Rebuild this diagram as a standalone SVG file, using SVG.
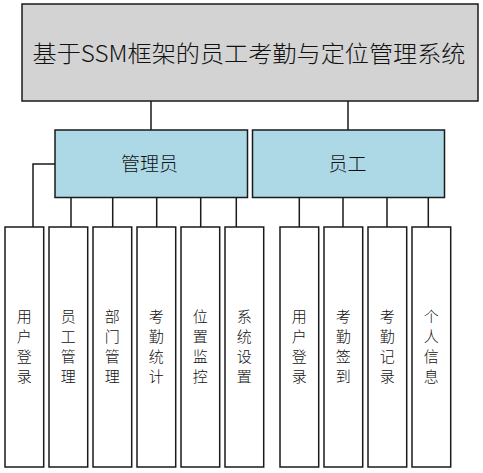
<svg xmlns="http://www.w3.org/2000/svg" width="483" height="473" viewBox="0 0 483 473">
<style>
.box{stroke:#1a1a1a;stroke-width:1.5}
.root{fill:#d3d3d3}
.mid{fill:#add8e6}
.leaf{fill:#ffffff}
.t{font-family:"Noto Sans CJK SC","Noto Sans",sans-serif;font-weight:300;fill:#111;text-anchor:middle;dominant-baseline:central}
.conn{fill:none;stroke:#1a1a1a;stroke-width:1.5}
</style>
<rect width="483" height="473" fill="#ffffff"/>
<g id="connectors" class="conn">
<path d="M151,101V130M348,101V130"/>
<path d="M55,164H33V227M71,197.5V227M112.7,197.5V227M156.7,197.5V227M200.7,197.5V227M236.3,197.5V227"/>
<path d="M299.3,197.5V227M343,197.5V227M387,197.5V227M428.3,197.5V227"/>
</g>
<g id="root">
<rect class="box root" x="22" y="4" width="456" height="97"/>
<text class="t" x="249" y="52" font-size="23" textLength="433" lengthAdjust="spacingAndGlyphs">基于SSM框架的员工考勤与定位管理系统</text>
</g>
<g id="admin">
<rect class="box mid" x="55" y="130" width="192.5" height="67.5"/>
<text class="t" x="149.5" y="162.5" font-size="19">管理员</text>
</g>
<g id="employee">
<rect class="box mid" x="252.5" y="130" width="192" height="67.5"/>
<text class="t" x="347.5" y="162.5" font-size="19">员工</text>
</g>
<g id="a1"><rect class="box leaf" x="5" y="227" width="38.7" height="240"/><text class="t" font-size="15"><tspan x="24.3" y="315">用</tspan><tspan x="24.3" y="335">户</tspan><tspan x="24.3" y="355">登</tspan><tspan x="24.3" y="375">录</tspan></text></g>
<g id="a2"><rect class="box leaf" x="49" y="227" width="38.7" height="240"/><text class="t" font-size="15"><tspan x="68.3" y="315">员</tspan><tspan x="68.3" y="335">工</tspan><tspan x="68.3" y="355">管</tspan><tspan x="68.3" y="375">理</tspan></text></g>
<g id="a3"><rect class="box leaf" x="93" y="227" width="38.7" height="240"/><text class="t" font-size="15"><tspan x="112.3" y="315">部</tspan><tspan x="112.3" y="335">门</tspan><tspan x="112.3" y="355">管</tspan><tspan x="112.3" y="375">理</tspan></text></g>
<g id="a4"><rect class="box leaf" x="137" y="227" width="38.7" height="240"/><text class="t" font-size="15"><tspan x="156.3" y="315">考</tspan><tspan x="156.3" y="335">勤</tspan><tspan x="156.3" y="355">统</tspan><tspan x="156.3" y="375">计</tspan></text></g>
<g id="a5"><rect class="box leaf" x="181" y="227" width="38.7" height="240"/><text class="t" font-size="15"><tspan x="200.3" y="315">位</tspan><tspan x="200.3" y="335">置</tspan><tspan x="200.3" y="355">监</tspan><tspan x="200.3" y="375">控</tspan></text></g>
<g id="a6"><rect class="box leaf" x="225" y="227" width="38.7" height="240"/><text class="t" font-size="15"><tspan x="244.3" y="315">系</tspan><tspan x="244.3" y="335">统</tspan><tspan x="244.3" y="355">设</tspan><tspan x="244.3" y="375">置</tspan></text></g>
<g id="e1"><rect class="box leaf" x="280" y="227" width="38.7" height="240"/><text class="t" font-size="15"><tspan x="299.3" y="315">用</tspan><tspan x="299.3" y="335">户</tspan><tspan x="299.3" y="355">登</tspan><tspan x="299.3" y="375">录</tspan></text></g>
<g id="e2"><rect class="box leaf" x="324" y="227" width="38.7" height="240"/><text class="t" font-size="15"><tspan x="343.3" y="315">考</tspan><tspan x="343.3" y="335">勤</tspan><tspan x="343.3" y="355">签</tspan><tspan x="343.3" y="375">到</tspan></text></g>
<g id="e3"><rect class="box leaf" x="368" y="227" width="38.7" height="240"/><text class="t" font-size="15"><tspan x="387.3" y="315">考</tspan><tspan x="387.3" y="335">勤</tspan><tspan x="387.3" y="355">记</tspan><tspan x="387.3" y="375">录</tspan></text></g>
<g id="e4"><rect class="box leaf" x="412" y="227" width="38.7" height="240"/><text class="t" font-size="15"><tspan x="431.3" y="315">个</tspan><tspan x="431.3" y="335">人</tspan><tspan x="431.3" y="355">信</tspan><tspan x="431.3" y="375">息</tspan></text></g>
</svg>
